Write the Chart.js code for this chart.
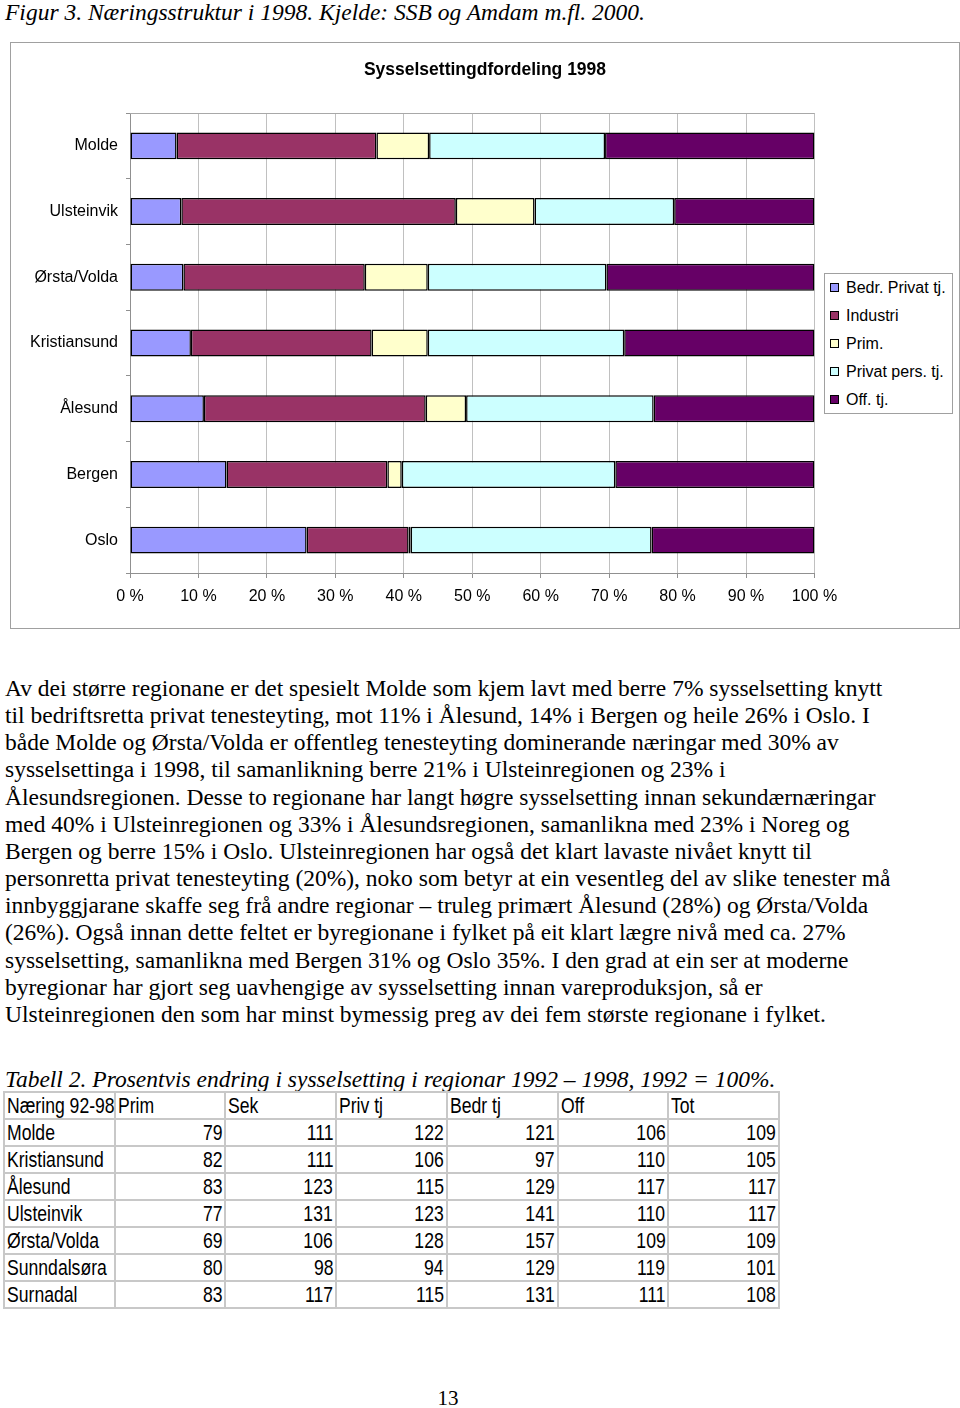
<!DOCTYPE html>
<html lang="no">
<head>
<meta charset="utf-8">
<title>Figur 3. Næringsstruktur i 1998</title>
<script src="https://cdn.jsdelivr.net/npm/chart.js@4/dist/chart.umd.min.js"></script>
<style>
  html, body { margin: 0; padding: 0; background: #fff; }
  body {
    position: relative; width: 960px; height: 1408px; overflow: hidden;
    font-family: "Liberation Serif", "Times New Roman", serif; color: #000;
  }
  .caption { position: absolute; left: 5px; font-style: italic; font-size: 23.5px; line-height: 26px; white-space: nowrap; }
  #chartFrame {
    position: absolute; left: 10px; top: 42px; width: 950px; height: 587px;
    border: 1px solid #a0a0a0; box-sizing: border-box;
  }
  #chartWrap { position: absolute; left: 10px; top: 42px; width: 950px; height: 587px; }
  #chartTitle {
    position: absolute; left: 10px; width: 950px; top: 59px; line-height: 22px;
    text-align: center; font: bold 17.5px "Liberation Sans", Arial, sans-serif;
  }
  #legend {
    position: absolute; left: 824px; top: 273px; width: 129px; height: 141px;
    border: 1px solid #a0a0a0; box-sizing: border-box; background: #fff;
    font: 16px "Liberation Sans", Arial, sans-serif;
  }
  #legend .item { position: absolute; left: 0; height: 28px; line-height: 28px; white-space: nowrap; }
  #legend .box { position: absolute; left: 5px; top: 9px; width: 9px; height: 9px; border: 1px solid #000; box-sizing: border-box; }
  #legend .txt { position: absolute; left: 21px; top: 0; }
  #text { position: absolute; left: 5px; top: 675px; font-size: 23.5px; line-height: 27.15px; white-space: nowrap; }
  #tbl {
    position: absolute; left: 3px; top: 1091px; border-collapse: collapse; table-layout: fixed; width: 777px;
    font-family: "Liberation Sans", Arial, sans-serif; font-size: 22px;
  }
  #tbl td {
    border: 2px solid #c8c8c8; height: 25px; padding: 0 2px;
    line-height: 25px; white-space: nowrap; overflow: visible;
  }
  #tbl td span { display: inline-block; transform: scaleX(0.8); transform-origin: left center; }
  #tbl td.num { text-align: right; }
  #tbl td.num span { transform-origin: right center; }
  #pageNo { position: absolute; left: 0; width: 896px; top: 1386px; text-align: center; font-size: 21px; line-height: 24px; }
</style>
</head>
<body>

<div class="caption" style="top:-1px">Figur 3. Næringsstruktur i 1998. Kjelde: SSB og Amdam m.fl. 2000.</div>

<div id="chartFrame"></div>
<div id="chartWrap"><canvas id="structChart"></canvas></div>
<div id="chartTitle">Sysselsettingdfordeling 1998</div>
<div id="legend"></div>

<div id="text"></div>

<div class="caption" style="top:1066px">Tabell 2. Prosentvis endring i sysselsetting i regionar 1992 – 1998, 1992 = 100%.</div>
<table id="tbl"></table>

<div id="pageNo">13</div>

<script>
/* ============================
   DATA
============================ */

const regions = ["Molde", "Ulsteinvik", "Ørsta/Volda", "Kristiansund", "Ålesund", "Bergen", "Oslo"];

// share of employment, percent
const bedrPrivat = [6.8, 7.5, 7.8, 8.9, 10.8, 14.1, 25.8];
const industri   = [29.2, 40.1, 26.5, 26.4, 32.4, 23.5, 14.9];
const prim       = [7.7, 11.5, 9.2, 8.2, 5.9, 2.1, 0.3];
const privatPers = [25.7, 20.4, 26.1, 28.7, 27.4, 31.2, 35.2];
const offentleg  = [30.6, 20.5, 30.4, 27.8, 23.5, 29.1, 23.8];

const seriesLabels = ["Bedr. Privat tj.", "Industri", "Prim.", "Privat pers. tj.", "Off. tj."];
const seriesColors = ["#9999ff", "#993366", "#ffffcc", "#ccffff", "#660066"];

const xTicks = [0, 10, 20, 30, 40, 50, 60, 70, 80, 90, 100];

// Tabell 2
const tblHeader  = ["Næring 92-98", "Prim", "Sek", "Priv tj", "Bedr tj", "Off", "Tot"];
const tblRegions = ["Molde", "Kristiansund", "Ålesund", "Ulsteinvik", "Ørsta/Volda", "Sunndalsøra", "Surnadal"];
const tblPrim = [79, 82, 83, 77, 69, 80, 83];
const tblSek  = [111, 111, 123, 131, 106, 98, 117];
const tblPriv = [122, 106, 115, 123, 128, 94, 115];
const tblBedr = [121, 97, 129, 141, 157, 129, 131];
const tblOff  = [106, 110, 117, 110, 109, 119, 111];
const tblTot  = [109, 105, 117, 117, 109, 101, 108];

const paragraph = [
  "Av dei større regionane er det spesielt Molde som kjem lavt med berre 7% sysselsetting knytt",
  "til bedriftsretta privat tenesteyting, mot 11% i Ålesund, 14% i Bergen og heile 26% i Oslo. I",
  "både Molde og Ørsta/Volda er offentleg tenesteyting dominerande næringar med 30% av",
  "sysselsettinga i 1998, til samanlikning berre 21% i Ulsteinregionen og 23% i",
  "Ålesundsregionen. Desse to regionane har langt høgre sysselsetting innan sekundærnæringar",
  "med 40% i Ulsteinregionen og 33% i Ålesundsregionen, samanlikna med 23% i Noreg og",
  "Bergen og berre 15% i Oslo. Ulsteinregionen har også det klart lavaste nivået knytt til",
  "personretta privat tenesteyting (20%), noko som betyr at ein vesentleg del av slike tenester må",
  "innbyggjarane skaffe seg frå andre regionar – truleg primært Ålesund (28%) og Ørsta/Volda",
  "(26%). Også innan dette feltet er byregionane i fylket på eit klart lægre nivå med ca. 27%",
  "sysselsetting, samanlikna med Bergen 31% og Oslo 35%. I den grad at ein ser at moderne",
  "byregionar har gjort seg uavhengige av sysselsetting innan vareproduksjon, så er",
  "Ulsteinregionen den som har minst bymessig preg av dei fem største regionane i fylket.",
];

/* ---------- TEXT + TABLE ---------- */

document.getElementById("text").innerHTML = paragraph.map((l) => `<div>${l}</div>`).join("");

const tblCols = [tblPrim, tblSek, tblPriv, tblBedr, tblOff, tblTot];
let rows = "<tr>" + tblHeader.map((h) => `<td><span>${h}</span></td>`).join("") + "</tr>";
tblRegions.forEach((r, i) => {
  rows += `<tr><td><span>${r}</span></td>` +
    tblCols.map((c) => `<td class="num"><span>${c[i]}</span></td>`).join("") + "</tr>";
});
document.getElementById("tbl").innerHTML = rows;

/* ---------- LEGEND ---------- */

document.getElementById("legend").innerHTML = seriesLabels
  .map((l, i) =>
    `<div class="item" style="top:${i * 28}px"><span class="box" style="background:${seriesColors[i]}"></span><span class="txt">${l}</span></div>`)
  .join("");

/* ---------- CHART ---------- */

Chart.defaults.font.family = '"Liberation Sans", Arial, sans-serif';
Chart.defaults.font.size = 16;
Chart.defaults.color = "#000";

// thin gray line on top of the plot area, like the Excel frame
const plotTopLine = {
  id: "plotTopLine",
  beforeDatasetsDraw(chart) {
    const { ctx, chartArea: a } = chart;
    ctx.save();
    ctx.strokeStyle = "#a8a8a8";
    ctx.lineWidth = 1;
    ctx.beginPath();
    ctx.moveTo(a.left, Math.round(a.top) + 0.5);
    ctx.lineTo(a.right, Math.round(a.top) + 0.5);
    ctx.stroke();
    ctx.restore();
  },
};

const seriesData = [bedrPrivat, industri, prim, privatPers, offentleg];

new Chart(document.getElementById("structChart"), {
  type: "bar",
  data: {
    labels: regions,
    datasets: seriesData.map((d, i) => ({
      label: seriesLabels[i],
      data: d,
      backgroundColor: seriesColors[i],
      borderColor: "#000",
      borderWidth: 1.5,
      borderSkipped: false,
      barPercentage: 0.41,
      categoryPercentage: 1,
    })),
  },
  options: {
    indexAxis: "y",
    responsive: true,
    maintainAspectRatio: false,
    animation: false,
    layout: { padding: { top: 71, right: 145.5, bottom: 0, left: 0 } },
    plugins: { legend: { display: false }, title: { display: false }, tooltip: { enabled: false } },
    scales: {
      x: {
        stacked: true,
        min: 0,
        max: 100,
        afterBuildTicks: (scale) => { scale.ticks = xTicks.map((v) => ({ value: v })); },
        ticks: { callback: (v) => v + " %", padding: 9, maxRotation: 0 },
        grid: { color: "#c0c0c0", tickColor: "#909090", tickLength: 5 },
        border: { color: "#909090" },
        afterFit: (scale) => { scale.height = 56; },
      },
      y: {
        stacked: true,
        ticks: { padding: 8 },
        grid: { drawOnChartArea: false, tickColor: "#909090", tickLength: 4 },
        border: { color: "#909090" },
        afterFit: (scale) => { scale.width = 120; },
      },
    },
  },
  plugins: [plotTopLine],
});
</script>
</body>
</html>
